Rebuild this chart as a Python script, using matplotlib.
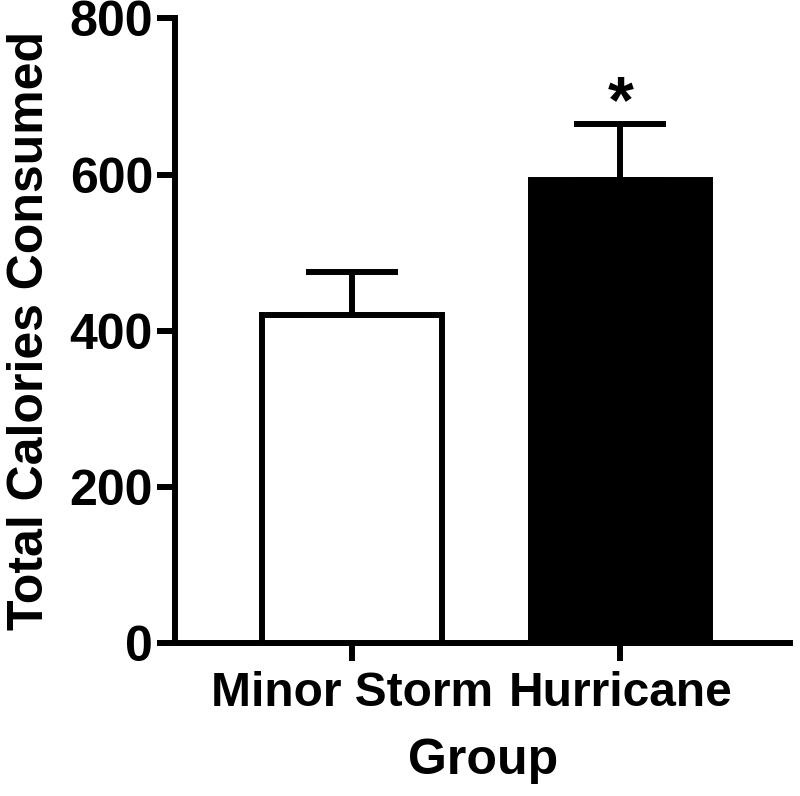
import matplotlib
matplotlib.use("Agg")
import matplotlib.pyplot as plt
from matplotlib import font_manager

names = {f.name for f in font_manager.fontManager.ttflist}
family = "Liberation Sans Narrow" if "Liberation Sans Narrow" in names else "Liberation Sans"
plt.rcParams["font.family"] = [family, "DejaVu Sans"]
plt.rcParams["font.weight"] = "bold"

groups = ["Minor Storm", "Hurricane"]
means = [420, 593]
sems = [55, 72]
face = ["white", "black"]
y_ticks = [0, 200, 400, 600, 800]

fig = plt.figure(figsize=(8, 7.96), dpi=100)
ax = fig.add_axes([0.219, 0.192, 0.769, 0.785])

lw = 4.3
x = list(range(len(groups)))
ax.bar(x, means, width=0.67, color=face, edgecolor="black", linewidth=lw, zorder=3)
ax.errorbar(x, means, yerr=[[0] * len(sems), sems], fmt="none", ecolor="black",
            elinewidth=lw, capsize=33, capthick=lw, zorder=2)
# significance mark above the hurricane bar
ax.text(1, means[1] + sems[1] + 2, "*", ha="center", va="baseline",
        fontsize=48, fontweight="bold")

ax.set_xlim(-0.66, 1.634)
ax.set_ylim(0, 800)
ax.set_yticks(y_ticks)
ax.set_xticks(x)
ax.set_xticklabels(groups)

for s in ["top", "right"]:
    ax.spines[s].set_visible(False)
for s in ["left", "bottom"]:
    ax.spines[s].set_linewidth(lw)
ax.tick_params(axis="both", width=lw)
ax.tick_params(axis="y", length=13, pad=3, labelsize=36)
ax.tick_params(axis="x", length=13, pad=7, labelsize=34.5)

ax.set_ylabel("Total Calories Consumed", fontsize=36, fontweight="bold", labelpad=12)
ax.set_xlabel("Group", fontsize=36, fontweight="bold", labelpad=16)

fig.savefig("out.png", dpi=100)
